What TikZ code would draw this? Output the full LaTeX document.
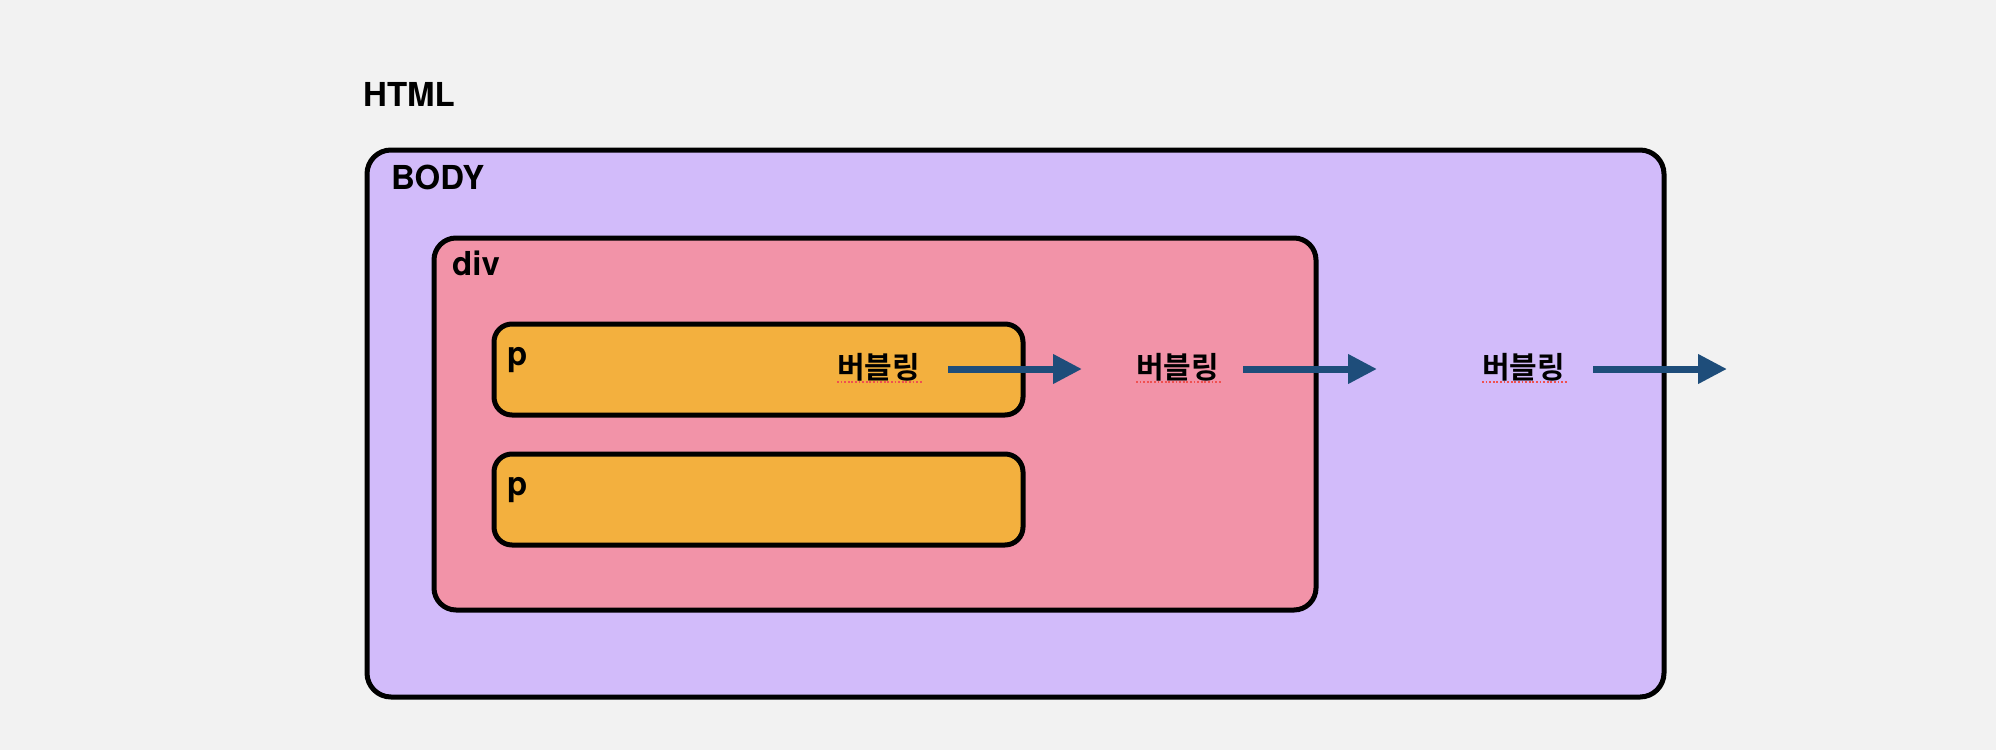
\documentclass[tikz,border=0pt]{standalone}
\usepackage{fontspec}
\setmainfont{TeX Gyre Heros}
\newfontfamily\kofont{Noto Sans CJK KR Bold}
\usetikzlibrary{arrows.meta}
\definecolor{bg}{RGB}{242,242,242}
\definecolor{bodyc}{RGB}{210,187,250}
\definecolor{divc}{RGB}{242,147,168}
\definecolor{pc}{RGB}{243,176,62}
\definecolor{arrc}{RGB}{30,77,122}
\definecolor{spell}{RGB}{240,80,80}
\tikzset{
  box/.style={draw=black, line width=5pt},
  lbl/.style={anchor=base west, inner sep=0pt, font=\bfseries\fontsize{33}{36}\selectfont},
  bub/.style={anchor=base west, inner sep=0pt, font=\kofont\fontsize{30}{34}\selectfont},
  flow/.style={draw=arrc, line width=7pt, -{Triangle[length=29pt,width=28pt]}},
  squig/.style={draw=spell, line width=1.8pt, dash pattern=on 1.8pt off 1.8pt}
}
\begin{document}
\begin{tikzpicture}[x=1pt,y=-1pt]
\fill[bg] (0,0) rectangle (1996,750);
\useasboundingbox (0,0) rectangle (1996,750);
% boxes
\draw[box, fill=bodyc, rounded corners=24pt] (367,150) rectangle (1664,697);
\draw[box, fill=divc, rounded corners=22pt] (434,238) rectangle (1316,610);
\draw[box, fill=pc, rounded corners=18pt] (494,324) rectangle (1023,415);
\draw[box, fill=pc, rounded corners=18pt] (494,454) rectangle (1023,545);
% labels
\node[lbl] (html) at (363,106) {HTML};
\node[lbl] (body) at (391,189) {BODY};
\node[lbl] (div) at (452,275) {div};
\node[lbl] (p1) at (507,365) {p};
\node[lbl] (p2) at (507,495) {p};
% bubbling labels
\node[bub] (b1) at (837,378) {버블링};
\node[bub] (b2) at (1136,378) {버블링};
\node[bub] (b3) at (1482,378) {버블링};
\draw[squig] ([yshift=-4pt]b1.base west) -- ([yshift=-4pt,xshift=3pt]b1.base east);
\draw[squig] ([yshift=-4pt]b2.base west) -- ([yshift=-4pt,xshift=3pt]b2.base east);
\draw[squig] ([yshift=-4pt]b3.base west) -- ([yshift=-4pt,xshift=3pt]b3.base east);
% arrows
\coordinate (a1s) at (948,369); \coordinate (a1e) at (1082,369);
\coordinate (a2s) at (1243,369); \coordinate (a2e) at (1377,369);
\coordinate (a3s) at (1593,369); \coordinate (a3e) at (1727,369);
\draw[flow] (a1s) -- (a1e);
\draw[flow] (a2s) -- (a2e);
\draw[flow] (a3s) -- (a3e);
\end{tikzpicture}
\end{document}
